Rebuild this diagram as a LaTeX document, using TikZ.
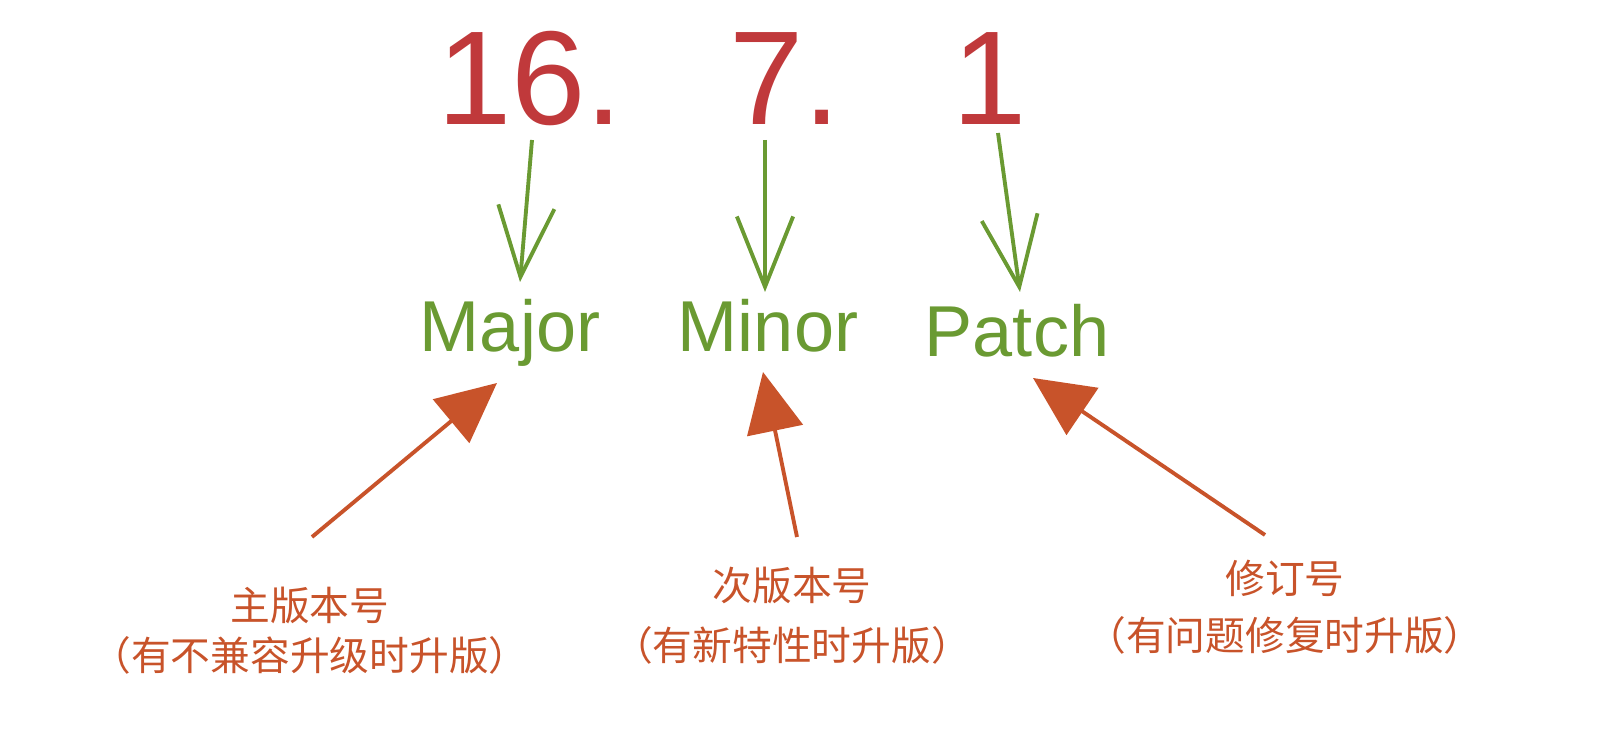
\documentclass[tikz,border=0pt]{standalone}
\usepackage{fontspec}
\setmainfont{Liberation Sans}
\newfontfamily\cjk{Noto Sans CJK SC}
\usetikzlibrary{arrows.meta}
\definecolor{vred}{HTML}{C0393B}
\definecolor{vgreen}{HTML}{6A9A32}
\definecolor{vorange}{HTML}{C8532A}
\tikzset{
 num/.style={text=vred,font=\fontsize{38}{40}\selectfont,anchor=base,inner sep=0},
 lab/.style={text=vgreen,font=\fontsize{20.5}{22}\selectfont,anchor=base,inner sep=0},
 cn/.style={text=vorange,font=\cjk\fontsize{11.3}{13}\selectfont,inner sep=0},
 garr/.style={vgreen,line width=1.1pt,-{Straight Barb[length=20pt,width=16pt,line width=1.1pt]}},
 oarr/.style={vorange,line width=1.1pt,-{Triangle[length=17pt,width=16pt]}}
}
\begin{document}
\begin{tikzpicture}[x=0.01cm,y=-0.01cm]
\useasboundingbox (0,0) rectangle (1623,749);
\node[num] (n1) at (530,125) {16.};
\node[num] (n2) at (785,125) {7.};
\node[num] (n3) at (990,125) {1};
\node[lab] (l1) at (510,352) {Major};
\node[lab] (l2) at (768,352) {Minor};
\node[lab] (l3) at (1017,357) {Patch};
\node[cn] (c1) at (310,605) {主版本号};
\node[cn] (d1) at (310,655) {（有不兼容升级时升版）};
\node[cn] (c2) at (792,585) {次版本号};
\node[cn] (d2) at (792,645) {（有新特性时升版）};
\node[cn] (c3) at (1285,578) {修订号};
\node[cn] (d3) at (1285,635) {（有问题修复时升版）};
\coordinate (g1s) at (532,140); \coordinate (g1e) at (520,282);
\coordinate (g2s) at (765,140); \coordinate (g2e) at (765,292);
\coordinate (g3s) at (998,133); \coordinate (g3e) at (1020,292);
\draw[garr] (g1s) -- (g1e);
\draw[garr] (g2s) -- (g2e);
\draw[garr] (g3s) -- (g3e);
\coordinate (o1s) at (312,537); \coordinate (o1e) at (497,383);
\coordinate (o2s) at (797,537); \coordinate (o2e) at (763,372);
\coordinate (o3s) at (1265,535); \coordinate (o3e) at (1033,378);
\draw[oarr] (o1s) -- (o1e);
\draw[oarr] (o2s) -- (o2e);
\draw[oarr] (o3s) -- (o3e);
\end{tikzpicture}
\end{document}
